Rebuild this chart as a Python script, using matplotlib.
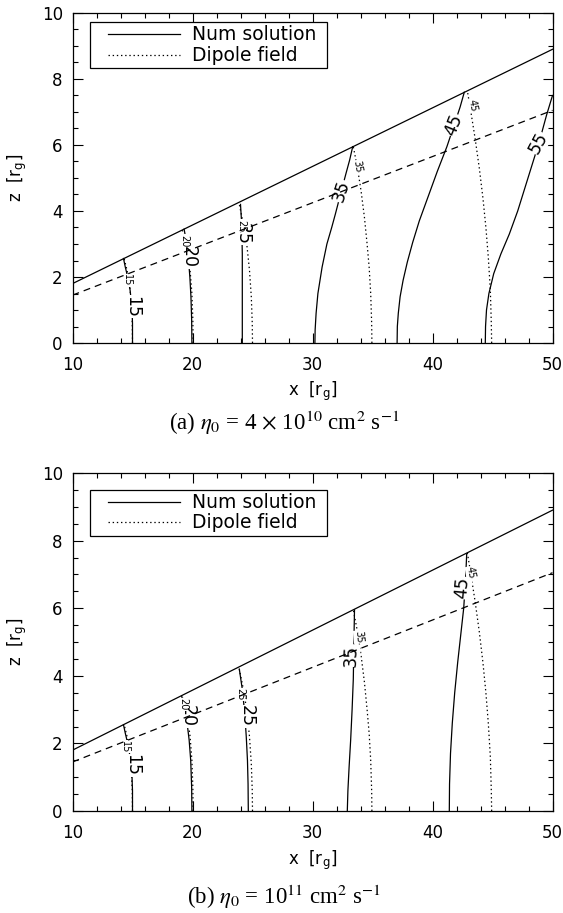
import matplotlib
matplotlib.use("Agg")
import matplotlib.pyplot as plt
from matplotlib.patches import Rectangle
from matplotlib.ticker import MultipleLocator

plt.rcParams['font.family'] = ['DejaVu Sans']
plt.rcParams['mathtext.fontset'] = 'stix'
plt.rcParams['lines.scale_dashes'] = False

# boundaries of the region (disc surface and dashed inner line)
upper_x = [10, 50]
upper_z = [1.8, 8.9]
lower_x = [10, 50]
lower_z = [1.45, 7.05]

# dipole field lines (same in both panels)
dip15_x = [15.0, 14.98, 14.9, 14.75, 14.55, 14.3]
dip15_z = [0.0, 0.6, 1.2, 1.8, 2.2, 2.56]
dip20_x = [20.05, 20.03, 19.95, 19.8, 19.55, 19.15]
dip20_z = [0.0, 0.7, 1.5, 2.2, 2.9, 3.42]
dip25_x = [25.0, 24.98, 24.9, 24.75, 24.55, 24.3, 23.9]
dip25_z = [0.0, 0.6, 1.4, 2.2, 2.9, 3.5, 4.2]
dip35_x = [34.95, 34.93, 34.85, 34.72, 34.55, 34.33, 34.05, 33.75, 33.4]
dip35_z = [0.0, 0.6, 1.5, 2.3, 3.0, 3.8, 4.6, 5.3, 5.95]
dip45_x = [44.93, 44.9, 44.82, 44.65, 44.45, 44.2, 43.9, 43.55, 43.2, 42.9]
dip45_z = [0.0, 0.6, 1.6, 2.6, 3.5, 4.4, 5.3, 6.2, 7.0, 7.65]

# numerical solution, panel (a)
a15_x = [15.0, 15.0, 14.95, 14.8, 14.6, 14.4, 14.25]
a15_z = [0.0, 0.6, 1.1, 1.6, 2.0, 2.3, 2.56]
a20_x = [19.95, 19.93, 19.87, 19.78, 19.65, 19.5, 19.3]
a20_z = [0.0, 0.7, 1.4, 2.0, 2.6, 3.05, 3.45]
a25_x = [24.15, 24.15, 24.1, 24.0]
a25_z = [0.0, 2.7, 3.6, 4.2]
a35_x = [30.2, 30.22, 30.3, 30.45, 30.8, 31.2, 31.6, 31.9, 32.4, 32.8, 33.1, 33.35]
a35_z = [0.0, 0.4, 0.9, 1.5, 2.3, 3.0, 3.5, 3.9, 4.6, 5.15, 5.55, 5.95]
a45_x = [37.05, 37.07, 37.15, 37.3, 37.55, 37.9, 38.35, 38.9, 39.6, 40.4, 41.2, 41.8, 42.3, 42.65]
a45_z = [0.0, 0.5, 0.9, 1.4, 1.9, 2.45, 3.05, 3.7, 4.4, 5.2, 5.95, 6.6, 7.15, 7.6]
a55_x = [44.4, 44.42, 44.5, 44.7, 45.1, 45.7, 46.4, 47.1, 47.7, 48.3, 48.9, 49.5, 50.0]
a55_z = [0.0, 0.5, 1.0, 1.5, 2.1, 2.7, 3.3, 4.0, 4.7, 5.4, 6.1, 6.9, 7.5]

# numerical solution, panel (b)
b15_x = [15.0, 15.0, 14.95, 14.8, 14.6, 14.4, 14.25]
b15_z = [0.0, 0.6, 1.1, 1.6, 2.0, 2.3, 2.55]
b20_x = [19.95, 19.93, 19.85, 19.72, 19.55, 19.35, 19.1]
b20_z = [0.0, 0.7, 1.5, 2.1, 2.6, 3.0, 3.4]
b25_x = [24.65, 24.63, 24.58, 24.48, 24.35, 24.15, 23.9]
b25_z = [0.0, 0.8, 1.5, 2.2, 2.9, 3.6, 4.2]
b35_x = [32.9, 32.95, 33.05, 33.18, 33.3, 33.4, 33.45, 33.5]
b35_z = [0.0, 0.6, 1.3, 2.1, 3.0, 3.9, 5.0, 5.95]
b45_x = [41.4, 41.42, 41.5, 41.65, 41.85, 42.1, 42.35, 42.6, 42.75, 42.85]
b45_z = [0.0, 0.8, 1.7, 2.6, 3.5, 4.4, 5.2, 6.0, 6.8, 7.6]

# contour labels: text, x, z, rotation
a_num_labels = [("15", 15.0, 1.1, -90), ("20", 19.7, 2.6, -90), ("25", 24.15, 3.3, -90),
                ("35", 32.4, 4.6, 72), ("45", 41.8, 6.6, 68), ("55", 48.85, 6.05, 62)]
a_dip_labels = [("15", 14.5, 1.9, -90), ("20", 19.3, 3.1, -90), ("25", 24.05, 3.55, -90),
                ("35", 33.75, 5.35, -80), ("45", 43.3, 7.2, -80)]
b_num_labels = [("15", 15.0, 1.35, -90), ("20", 19.6, 2.8, -90), ("25", 24.5, 2.8, -90),
                ("35", 33.2, 4.6, 88), ("45", 42.5, 6.6, 85)]
b_dip_labels = [("15", 14.4, 1.9, -90), ("20", 19.2, 3.15, -90), ("25", 23.95, 3.45, -90),
                ("35", 33.85, 5.15, -85), ("45", 43.2, 7.05, -80)]

dip_lines = [(dip15_x, dip15_z), (dip20_x, dip20_z), (dip25_x, dip25_z),
             (dip35_x, dip35_z), (dip45_x, dip45_z)]
a_lines = [(a15_x, a15_z), (a20_x, a20_z), (a25_x, a25_z),
           (a35_x, a35_z), (a45_x, a45_z), (a55_x, a55_z)]
b_lines = [(b15_x, b15_z), (b20_x, b20_z), (b25_x, b25_z),
           (b35_x, b35_z), (b45_x, b45_z)]

W, H = 563, 913
fig = plt.figure(figsize=(W / 100, H / 100), dpi=100)
ax_a = fig.add_axes([72.5 / W, 1 - 343 / H, 480 / W, 330 / H])
ax_b = fig.add_axes([72.5 / W, 1 - 811 / H, 480 / W, 338 / H])


def draw_panel(ax, num_lines, num_labels, dip_labels, leg_box, leg_rows):
    for x, z in num_lines:
        ax.plot(x, z, color='black', lw=0.9, zorder=2)
    for x, z in dip_lines:
        ax.plot(x, z, color='black', lw=0.9, ls=(0, (1, 2)), zorder=2)
    for txt, x, z, rot in num_labels:
        ax.text(x, z, txt, fontsize=12.5, rotation=rot, ha='center', va='center',
                rotation_mode='anchor', zorder=3,
                bbox=dict(facecolor='white', edgecolor='none', pad=0.3))
    for txt, x, z, rot in dip_labels:
        ax.text(x, z, txt, fontsize=7, rotation=rot, ha='center', va='center',
                rotation_mode='anchor', zorder=3,
                bbox=dict(facecolor='white', edgecolor='none', pad=0.2))
    ax.plot(upper_x, upper_z, color='black', lw=0.9, zorder=4)
    ax.plot(lower_x, lower_z, color='black', lw=0.9, ls=(0, (5, 3.6)), zorder=4)

    ax.set_xlim(10, 50)
    ax.set_ylim(0, 10)
    ax.xaxis.set_major_locator(MultipleLocator(10))
    ax.xaxis.set_minor_locator(MultipleLocator(2))
    ax.yaxis.set_major_locator(MultipleLocator(2))
    ax.yaxis.set_minor_locator(MultipleLocator(0.5))
    ax.tick_params(which='both', direction='in', top=True, right=True, width=0.8,
                   labelsize=12)
    ax.tick_params(which='major', length=7)
    ax.tick_params(which='minor', length=3.6)
    ax.tick_params(axis='x', pad=9)
    ax.tick_params(axis='y', pad=7)
    for s in ax.spines.values():
        s.set_linewidth(0.9)

    # legend box
    x0, y0, x1, y1 = leg_box
    ax.add_patch(Rectangle((x0, y1), x1 - x0, y0 - y1, transform=ax.transAxes,
                           facecolor='white', edgecolor='black', lw=0.9, zorder=5))
    r1, r2 = leg_rows
    ax.plot([0.074, 0.224], [r1, r1], transform=ax.transAxes, color='black', lw=0.9, zorder=6)
    ax.plot([0.074, 0.224], [r2, r2], transform=ax.transAxes, color='black', lw=0.9,
            ls=(0, (1, 2)), zorder=6)
    ax.text(0.249, r1, "Num solution", transform=ax.transAxes, fontsize=13.5,
            va='center', ha='left', zorder=6)
    ax.text(0.249, r2, "Dipole field", transform=ax.transAxes, fontsize=13.5,
            va='center', ha='left', zorder=6)


draw_panel(ax_a, a_lines, a_num_labels, a_dip_labels,
           (0.0365, 0.9736, 0.5296, 0.8324), (0.936, 0.872))
draw_panel(ax_b, b_lines, b_num_labels, b_dip_labels,
           (0.0365, 0.95, 0.5296, 0.8136), (0.913, 0.854))

# axis titles
for ycen, ytop, ybot in [(391, 13, 343), (860, 473, 811)]:
    fig.text(312.5 / W, 1 - ycen / H, r'x  [r$_\mathregular{g}$]', fontsize=12,
             ha='center', va='center')
    fig.text(17 / W, 1 - (ytop + ybot) / 2 / H, r'z  [r$_\mathregular{g}$]', fontsize=12,
             ha='center', va='center', rotation=90)

cap_font = dict(family='Liberation Serif', fontsize=16.5, ha='center', va='center')
fig.text(284 / W, 1 - 423 / H, r'(a) $\eta_0$ = 4 $\times$ 10$^{10}$ cm$^2$ s$^{-1}$', **cap_font)
fig.text(284 / W, 1 - 897 / H, r'(b) $\eta_0$ = 10$^{11}$ cm$^2$ s$^{-1}$', **cap_font)

fig.savefig("out.png", dpi=100)
